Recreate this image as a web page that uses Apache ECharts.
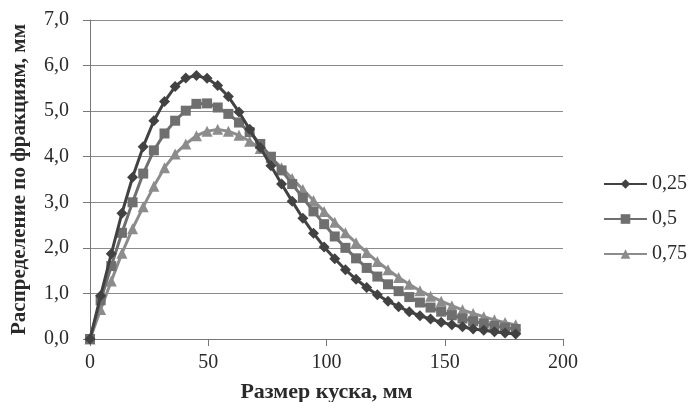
<!DOCTYPE html>
<html>
<head>
<meta charset="utf-8">
<script src="https://cdn.jsdelivr.net/npm/echarts@6/dist/echarts.min.js"></script>
<style>
  html, body { margin: 0; padding: 0; background: #fff; }
  #chart { width: 691px; height: 402px; }
</style>
</head>
<body>
<div id="chart"></div>
<script>
// размер куска, мм (шаг 4,5)
var sizes = [0, 4.5, 9, 13.5, 18, 22.5, 27, 31.5, 36, 40.5, 45, 49.5, 54, 58.5, 63, 67.5, 72, 76.5, 81, 85.5,
  90, 94.5, 99, 103.5, 108, 112.5, 117, 121.5, 126, 130.5, 135, 139.5, 144, 148.5, 153, 157.5, 162, 166.5, 171, 175.5, 180]

var s025 = [0, 0.95, 1.87, 2.76, 3.55, 4.22, 4.79, 5.21, 5.54, 5.73, 5.78, 5.72, 5.56, 5.32, 4.98, 4.6, 4.2, 3.8, 3.4, 3.02,
  2.65, 2.32, 2.02, 1.76, 1.52, 1.31, 1.13, 0.97, 0.83, 0.71, 0.6, 0.51, 0.44, 0.37, 0.31, 0.27, 0.22, 0.19, 0.16, 0.13, 0.11]
var s05 = [0, 0.85, 1.6, 2.33, 3.0, 3.63, 4.14, 4.51, 4.79, 5.01, 5.16, 5.17, 5.08, 4.94, 4.75, 4.54, 4.28, 4.0, 3.7, 3.4,
  3.1, 2.8, 2.52, 2.25, 2.0, 1.77, 1.56, 1.37, 1.2, 1.05, 0.92, 0.8, 0.69, 0.6, 0.52, 0.45, 0.39, 0.34, 0.29, 0.25, 0.22]
var s075 = [0, 0.65, 1.27, 1.88, 2.42, 2.9, 3.35, 3.76, 4.06, 4.28, 4.46, 4.56, 4.6, 4.56, 4.47, 4.34, 4.18, 3.98, 3.76, 3.52,
  3.28, 3.04, 2.8, 2.56, 2.33, 2.11, 1.9, 1.7, 1.52, 1.35, 1.2, 1.06, 0.94, 0.83, 0.73, 0.64, 0.56, 0.49, 0.42, 0.36, 0.31]

var yTicks = ['0,0', '1,0', '2,0', '3,0', '4,0', '5,0', '6,0', '7,0']
var names = ['0,25', '0,5', '0,75']

function pairs(ys) {
  return sizes.map(function (x, i) { return [x, ys[i]] })
}

var font = '"Liberation Serif", "Times New Roman", serif'
var chart = echarts.init(document.getElementById('chart'))

chart.setOption({
  animation: false,
  textStyle: { fontFamily: font },
  grid: { left: 90, right: 128, top: 20, bottom: 63, outerBoundsMode: 'none', containLabel: false },
  legend: {
    orient: 'vertical',
    left: 598,
    top: 169,
    itemWidth: 43,
    itemHeight: 12,
    itemGap: 15,
    data: names,
    textStyle: { fontFamily: font, fontSize: 20, color: '#2a2a2a', padding: [0, 0, 0, 0] }
  },
  xAxis: {
    type: 'value',
    min: 0,
    max: 200,
    interval: 50,
    name: 'Размер куска, мм',
    nameLocation: 'middle',
    nameGap: 42,
    nameTextStyle: { fontFamily: font, fontSize: 22, fontWeight: 'bold', color: '#2a2a2a' },
    axisLine: { lineStyle: { color: '#777', width: 1 } },
    axisTick: { show: true, length: 7, lineStyle: { color: '#777' } },
    axisLabel: { fontSize: 20, color: '#2a2a2a', margin: 14 },
    splitLine: { show: false }
  },
  yAxis: {
    type: 'value',
    min: 0,
    max: 7,
    interval: 1,
    name: 'Распределение по фракциям, мм',
    nameLocation: 'middle',
    nameGap: 60,
    nameTextStyle: { fontFamily: font, fontSize: 21, fontWeight: 'bold', color: '#2a2a2a' },
    axisLine: { show: true, lineStyle: { color: '#777', width: 1 } },
    axisTick: { show: true, length: 7, lineStyle: { color: '#777' } },
    axisLabel: {
      fontSize: 20,
      color: '#2a2a2a',
      margin: 21,
      formatter: function (v) { return yTicks[Math.round(v)] }
    },
    splitLine: { show: true, lineStyle: { color: '#8a8a8a', width: 1 } }
  },
  series: [
    {
      name: names[0],
      type: 'line',
      data: pairs(s025),
      symbol: 'diamond',
      symbolSize: 11,
      color: '#424242',
      lineStyle: { width: 3 },
      z: 4
    },
    {
      name: names[1],
      type: 'line',
      data: pairs(s05),
      symbol: 'rect',
      symbolSize: 10,
      color: '#6f6f6f',
      lineStyle: { width: 3 },
      z: 3
    },
    {
      name: names[2],
      type: 'line',
      data: pairs(s075),
      symbol: 'triangle',
      symbolSize: 11,
      color: '#8c8c8c',
      lineStyle: { width: 3 },
      z: 2
    }
  ]
})
</script>
</body>
</html>
